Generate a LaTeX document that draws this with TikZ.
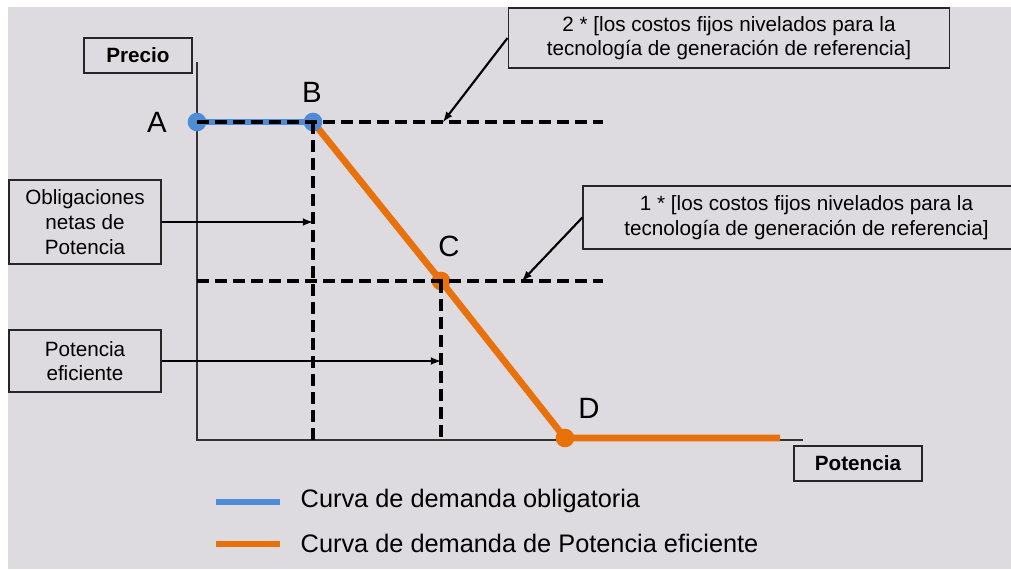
\documentclass[tikz,border=0pt]{standalone}
\usepackage{fontspec}
\setmainfont{Liberation Sans}
\usetikzlibrary{positioning}

\definecolor{bg}{RGB}{221,219,223}
\definecolor{curveblue}{RGB}{78,140,216}
\definecolor{curveorange}{RGB}{232,113,12}

\begin{document}
\begin{tikzpicture}[x=0.75pt,y=-0.75pt,
    box/.style={draw=black!85, line width=1.2pt, fill=bg, align=center,
      inner sep=0pt, font=\fontsize{15.5}{18.5}\selectfont},
    axisbox/.style={box, font=\fontsize{15.5}{18}\selectfont\bfseries},
    guide/.style={line width=2.5pt, dash pattern=on 9pt off 4.5pt},
    pointer/.style={line width=1.6pt, -latex},
    curve/.style={line width=5pt},
    dot/.style={circle, inner sep=0pt, minimum size=14pt},
    letter/.style={font=\fontsize{22}{22}\selectfont},
    legendtext/.style={anchor=west, font=\fontsize{19}{20}\selectfont}]

    \useasboundingbox (0,0) rectangle (1011,569);
    \fill[white] (0,0) rectangle (1011,569);
    \fill[bg] (8,7) rectangle (1011,569);

    % points of the demand curve
    \coordinate (A) at (197,122);
    \coordinate (B) at (313,122);
    \coordinate (C) at (441,281);
    \coordinate (D) at (565,438);
    \coordinate (E) at (780,438);

    % axes
    \coordinate (ytop) at (197,62);
    \coordinate (O) at (197,440);
    \coordinate (xend) at (803,440);
    \draw[line width=1.2pt, black!80] (ytop) -- (O) -- (xend);

    \node[axisbox, minimum width=81pt, minimum height=26.25pt] (precio) at (138,55.5) {Precio};
    \node[axisbox, minimum width=96pt, minimum height=26.25pt] (potencia) at (858,463.5) {Potencia};

    % curves
    \draw[curve, curveblue] (A) -- (B);
    \draw[curve, curveorange, line join=round] (B) -- (C) -- (D) -- (E);

    \node[dot, fill=curveblue] (dotA) at (A) {};
    \node[dot, fill=curveblue] (dotB) at (B) {};
    \node[dot, fill=curveorange] (dotC) at (C) {};
    \node[dot, fill=curveorange] (dotD) at (D) {};

    \node[letter] (labA) at (157,122) {A};
    \node[letter] (labB) at (312,92) {B};
    \node[letter] (labC) at (449,246) {C};
    \node[letter] (labD) at (589,408) {D};

    % guide lines
    \coordinate (Bright) at (603,122);
    \coordinate (Cright) at (603,281);
    \coordinate (Cleft) at (197,281);
    \draw[guide] (A) -- (Bright);
    \draw[guide] (Cleft) -- (Cright);
    \draw[guide] (B) -- (B |- O);
    \draw[guide] (C) -- (C |- O);

    % boxes with pointers
    \node[box, minimum width=114pt, minimum height=63pt] (oblig) at (85,222)
        {Obligaciones\\netas de\\Potencia};
    \node[box, minimum width=114pt, minimum height=46.5pt] (efic) at (85,361)
        {Potencia\\eficiente};
    \node[box, minimum width=331pt, minimum height=45pt] (ref2) at (729,38)
        {2 * [los costos fijos nivelados para la\\tecnología de generación de referencia]};
    \node[box, minimum width=335pt, minimum height=47.25pt] (ref1) at (806.5,217.5)
        {1 * [los costos fijos nivelados para la\\tecnología de generación de referencia]};

    \coordinate (tip2) at (443,122);
    \coordinate (tip1) at (522,281);
    \draw[pointer] (oblig.east) -- (oblig.east -| B);
    \draw[pointer] (efic.east) -- (efic.east -| C);
    \draw[pointer] (ref2.west) -- (tip2);
    \draw[pointer] (ref1.west) -- (tip1);

    % legend
    \coordinate (lb1) at (216,502);
    \coordinate (lb2) at (280,502);
    \coordinate (lo1) at (216,544);
    \coordinate (lo2) at (280,544);
    \draw[curve, curveblue] (lb1) -- (lb2);
    \draw[curve, curveorange] (lo1) -- (lo2);
    \node[legendtext] (legblue) at (296,501) {Curva de demanda obligatoria};
    \node[legendtext] (legorange) at (296,543) {Curva de demanda de Potencia eficiente};

\end{tikzpicture}
\end{document}
